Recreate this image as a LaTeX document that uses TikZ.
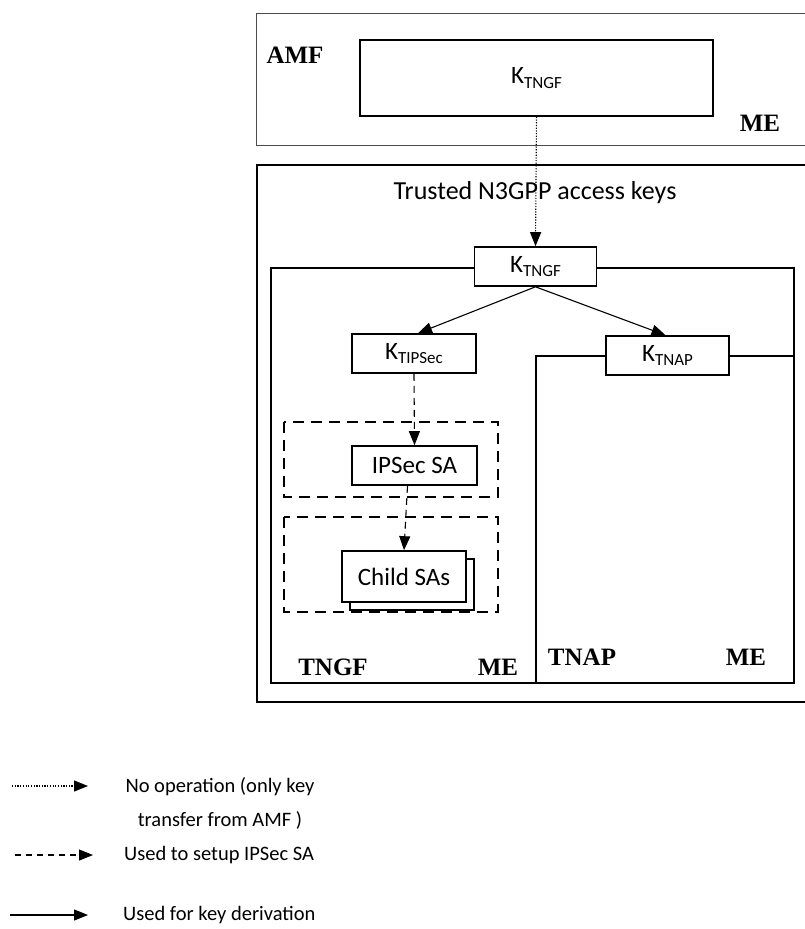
\documentclass[tikz,border=0pt]{standalone}
\usepackage{fontspec}
\setmainfont{Carlito}
\newfontfamily\tnr{Liberation Serif}
\usetikzlibrary{arrows.meta,calc}
\newcommand{\ksub}[1]{K\raisebox{-0.4ex}{\fontsize{17}{17}\selectfont #1}}
\begin{document}
\begin{tikzpicture}[x=1pt,y=-1pt,
  keybox/.style={draw, line width=1.6pt, fill=white, inner sep=0pt,
    minimum width=123pt, minimum height=39pt, font=\fontsize{25}{28}\selectfont},
  lbl/.style={font=\tnr\bfseries\fontsize{25}{27}\selectfont, inner sep=0pt},
  region/.style={draw, line width=1.3pt},
  dashbox/.style={draw, line width=1.3pt, dash pattern=on 11pt off 7pt},
  arr/.style={-{Triangle[length=14pt,width=11pt]}, line width=1.1pt},
  dotarr/.style={arr, dash pattern=on 1.2pt off 1.5pt, line width=1.1pt},
  dasharr/.style={arr, dash pattern=on 7pt off 5pt},
  legtext/.style={font=\fontsize{20.5}{34}\selectfont, inner sep=0pt}]
\useasboundingbox (0,0) rectangle (805,929);
% AMF box
\draw[line width=0.8pt, black!70] (256,13) rectangle (812,145);
\node[keybox, minimum width=353pt, minimum height=76pt] (amfkey) at (536.5,78) {\ksub{TNGF}};
\node[lbl] (amf) at (295,55) {AMF};
\node[lbl] (me0) at (760,123) {ME};
% big box
\draw[line width=2.2pt] (257,165) rectangle (812,702);
\node[font=\fontsize{26}{30}\selectfont, inner sep=0pt] (title) at (535,193) {Trusted N3GPP access keys};
% regions
\draw[region] (271,268) rectangle (794,683);
\draw[region] (536,683) -- (536,356) -- (794,356);
% dashed boxes
\draw[dashbox] (284,422) rectangle (498,497);
\draw[dashbox] (284,517) rectangle (498,612);
% key boxes
\node[keybox, minimum width=122pt] (ktngf) at (535.5,266.5) {\ksub{TNGF}};
\node[keybox, minimum width=124pt] (ktipsec) at (414,353.5) {\ksub{TIPSec}};
\node[keybox, minimum width=123pt] (ktnap) at (667.5,355.5) {\ksub{TNAP}};
\node[keybox, minimum width=125pt] (ipsec) at (414.5,465.5) {IPSec SA};
\node[keybox, minimum width=124pt, minimum height=51pt] (childback) at (412,584.5) {};
\node[keybox, minimum width=124pt, minimum height=51pt] (child) at (404,576.5) {Child SAs};
% labels
\node[lbl] (tngf) at (333,667) {TNGF};
\node[lbl] (me1) at (498,667) {ME};
\node[lbl] (tnap) at (582,657) {TNAP};
\node[lbl] (me2) at (746,657) {ME};
% connectors
\draw[dotarr] (amfkey.south) -- (ktngf.north);
\draw[arr] (ktngf.south) -- ($(ktipsec.north)+(4,0)$);
\draw[arr] (ktngf.south) -- ($(ktnap.north)+(-2,0)$);
\draw[dasharr] (ktipsec.south) -- (ipsec.north);
\draw[dasharr] ($(ipsec.south)+(-7,0)$) -- (child.north);
% legend
\coordinate (l1a) at (12,786); \coordinate (l1b) at (88,786);
\coordinate (l2a) at (15,855); \coordinate (l2b) at (93,855);
\coordinate (l3a) at (10,915); \coordinate (l3b) at (88,915);
\draw[dotarr] (l1a) -- (l1b);
\draw[dasharr, dash pattern=on 6pt off 5pt] (l2a) -- (l2b);
\draw[arr] (l3a) -- (l3b);
\node[legtext, align=center] (t1) at (220,803) {No operation (only key\\transfer from AMF )};
\node[legtext, anchor=west] (t2) at (124,855) {Used to setup IPSec SA};
\node[legtext, anchor=west] (t3) at (123,915) {Used for key derivation};
\end{tikzpicture}
\end{document}
